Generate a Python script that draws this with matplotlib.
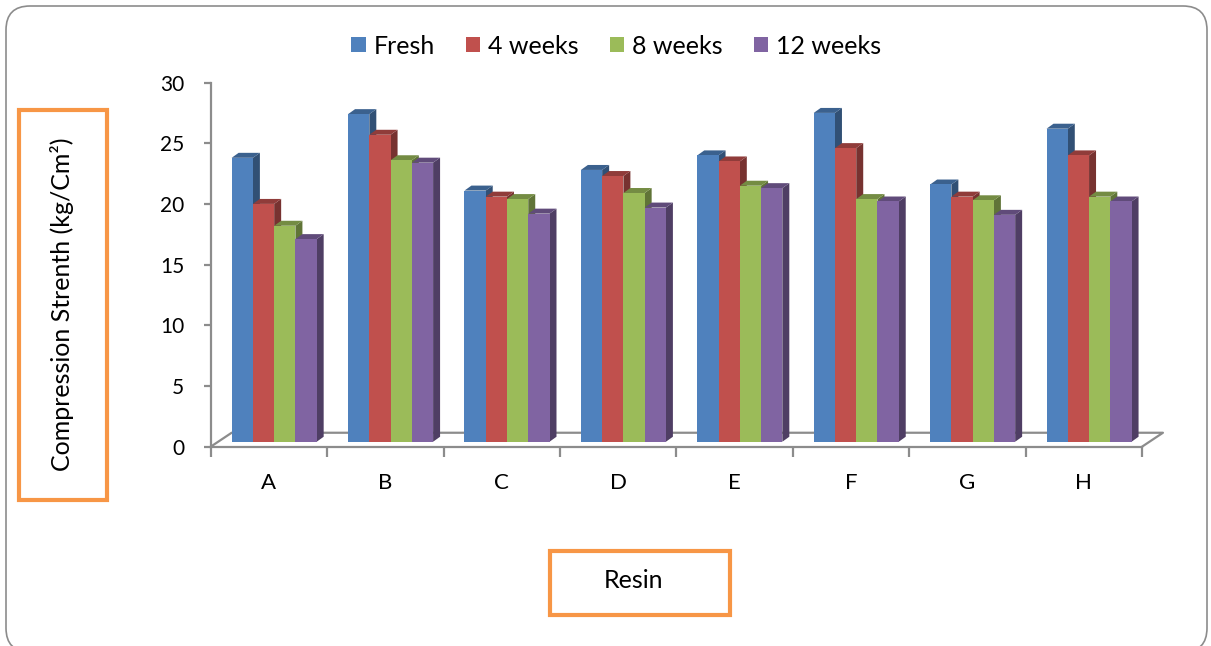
import matplotlib
matplotlib.use("Agg")
import matplotlib.pyplot as plt
from matplotlib.patches import Polygon, Rectangle, FancyBboxPatch, Patch
from matplotlib.transforms import IdentityTransform
import numpy as np

# data
resins = ["A", "B", "C", "D", "E", "F", "G", "H"]
series = ["Fresh", "4 weeks", "8 weeks", "12 weeks"]
fresh = [23.4, 27.0, 20.7, 22.4, 23.6, 27.1, 21.2, 25.8]
weeks4 = [19.6, 25.3, 20.2, 21.9, 23.1, 24.2, 20.2, 23.6]
weeks8 = [17.8, 23.2, 20.0, 20.5, 21.1, 20.0, 19.9, 20.2]
weeks12 = [16.7, 23.0, 18.8, 19.3, 20.9, 19.8, 18.7, 19.8]
colors = ["#4F81BD", "#C0504D", "#9BBB59", "#8064A2"]

values = [fresh, weeks4, weeks8, weeks12]
grey = "#8C8C8C"
plt.rcParams['font.family'] = ['Lato', 'DejaVu Sans']


def shade(c, f):
    r, g, b = matplotlib.colors.to_rgb(c)
    return (r * f, g * f, b * f)


fig = plt.figure(figsize=(12.11, 6.46), dpi=100)
ax = fig.add_axes([210.7 / 1211, (646 - 446.7) / 646, 931.3 / 1211, 364 / 646])
ax.set_xlim(0, 8)
ax.set_ylim(0, 30)

# 3D offsets (data units)
fdx, fdy = 0.18, 1.15   # floor depth
bdx, bdy = 0.06, 0.41   # bar depth
base = 0.41
bw = 0.1826
start = 0.18

# floor outline
ax.plot([0, fdx, 8 + fdx, 8], [0, fdy, fdy, 0], color=grey, lw=1.6,
        clip_on=False, zorder=1)

for i in range(len(resins)):
    for j in range(len(series)):
        x0 = i + start + j * bw
        top = base + values[j][i]
        c = colors[j]
        side = Polygon([(x0 + bw, base), (x0 + bw + bdx, base + bdy),
                        (x0 + bw + bdx, top + bdy), (x0 + bw, top)],
                       closed=True, facecolor=shade(c, 0.62), edgecolor='none',
                       zorder=3, clip_on=False)
        cap = Polygon([(x0, top), (x0 + bdx, top + bdy),
                       (x0 + bw + bdx, top + bdy), (x0 + bw, top)],
                      closed=True, facecolor=shade(c, 0.75), edgecolor='none',
                      zorder=3, clip_on=False)
        front = Rectangle((x0, base), bw, values[j][i], facecolor=c,
                          edgecolor='none', zorder=3, clip_on=False)
        ax.add_patch(side)
        ax.add_patch(cap)
        ax.add_patch(front)

for s in ["top", "right"]:
    ax.spines[s].set_visible(False)
for s in ["left", "bottom"]:
    ax.spines[s].set_color(grey)
    ax.spines[s].set_linewidth(1.6)

ax.set_yticks(np.arange(0, 31, 5))
ax.set_xticks(np.arange(0, 9, 1))
ax.set_xticklabels([])
ax.set_xticks(np.arange(8) + 0.5, minor=True)
ax.set_xticklabels(resins, minor=True)
ax.tick_params(axis='y', which='major', length=5, width=1.6, color=grey,
               labelsize=15, pad=14)
ax.tick_params(axis='x', which='major', length=7, width=1.6, color=grey)
ax.tick_params(axis='x', which='minor', length=0, labelsize=16, pad=19)

# legend
handles = [Patch(facecolor=c, edgecolor='none') for c in colors]
fig.legend(handles, series, loc='center', bbox_to_anchor=(616 / 1211, 1 - 46 / 646),
           ncol=4, frameon=False, fontsize=18, handlelength=0.58, handleheight=0.58,
           handletextpad=0.3, columnspacing=1.25)

# axis titles in orange boxes
fig.text(62 / 1211, 1 - 304 / 646, "Compression Strenth (kg/Cm²)", rotation=90,
         ha='center', va='center', fontsize=18)
fig.text(633 / 1211, 1 - 580 / 646, "Resin", ha='center', va='center', fontsize=18)
ident = IdentityTransform()
fig.add_artist(Rectangle((19, 146), 88, 390, fill=False, edgecolor="#F79646",
                         lw=3, transform=ident))
fig.add_artist(Rectangle((550, 31), 180, 64, fill=False, edgecolor="#F79646",
                         lw=3, transform=ident))

# rounded chart border
fig.add_artist(FancyBboxPatch((6, -6), 1201, 646,
                              boxstyle="round,pad=0,rounding_size=24",
                              fill=False, edgecolor=grey, lw=1.2, transform=ident))

fig.savefig("out.png", dpi=100)
